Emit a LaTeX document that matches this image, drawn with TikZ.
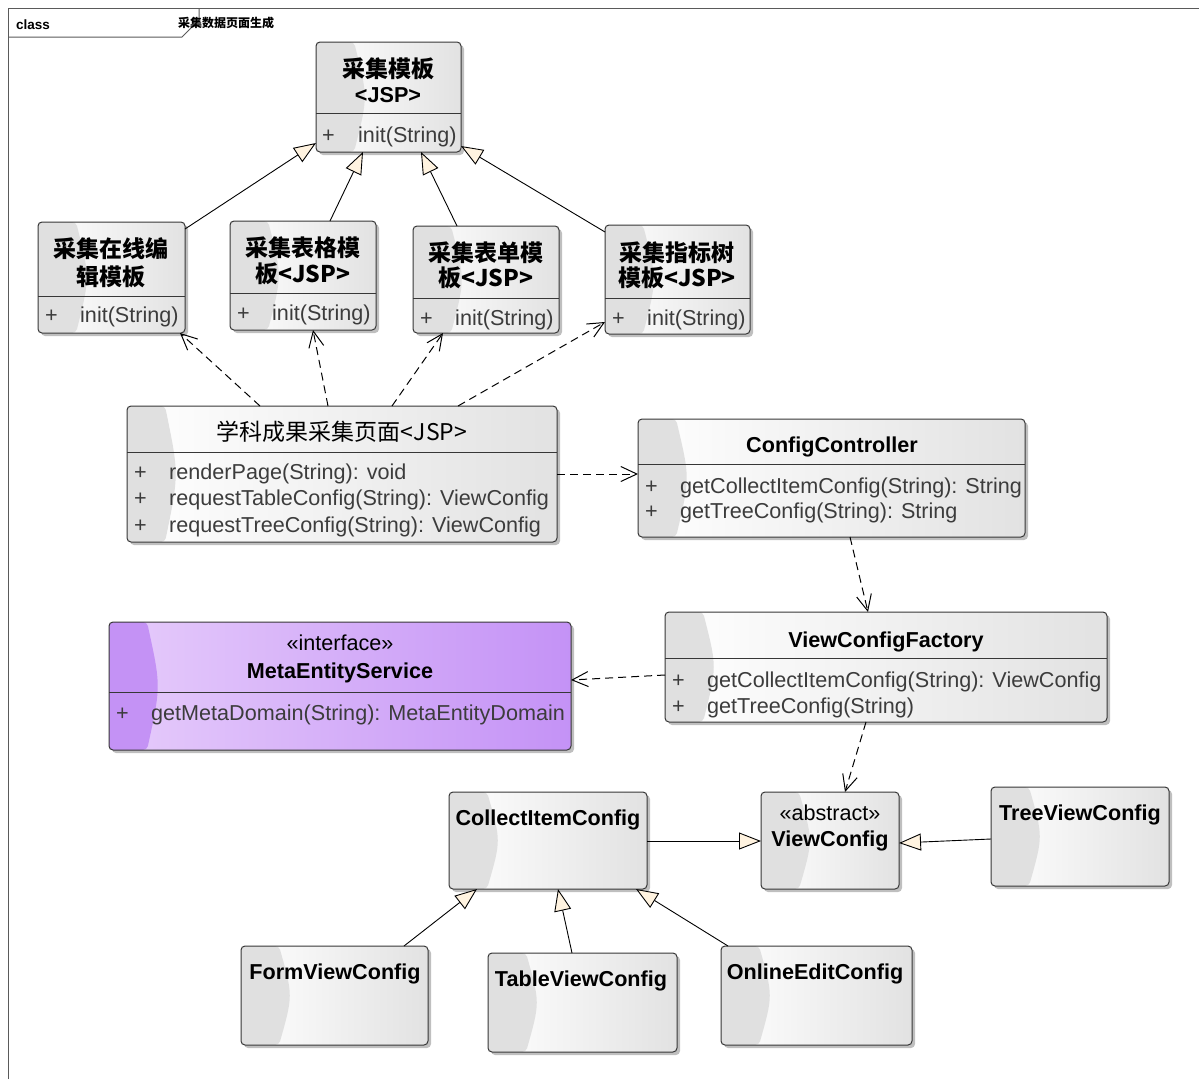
\documentclass[tikz,border=0pt]{standalone}
\usepackage{fontspec}
\setmainfont{Liberation Sans}
\newfontfamily\cjk{Noto Sans CJK SC}
\usetikzlibrary{arrows.meta,shadows,calc}
\definecolor{cream}{RGB}{255,243,224}
\definecolor{boxline}{RGB}{55,55,55}
\definecolor{stripgray}{RGB}{224,224,224}
\definecolor{rightgray}{RGB}{226,226,226}
\definecolor{pstrip}{RGB}{196,146,245}
\definecolor{plight}{RGB}{230,204,251}
\definecolor{pright}{RGB}{196,146,246}
\definecolor{txt}{RGB}{60,60,60}
\definecolor{framec}{RGB}{90,90,90}
\tikzset{
  cls/.style={draw=boxline, line width=1pt, rounded corners=4pt, anchor=north west,
    inner sep=0pt, outer sep=0pt, left color=white, right color=rightgray,
    drop shadow={shadow xshift=3pt, shadow yshift=-3pt, fill=black!50, opacity=0.5},
    path picture={\fill[#1] (path picture bounding box.north west)
      -- ([xshift=38pt]path picture bounding box.north west)
      .. controls ([xshift=52pt]path picture bounding box.west) and ([xshift=52pt]path picture bounding box.west)
      .. ([xshift=38pt]path picture bounding box.south west)
      -- (path picture bounding box.south west) -- cycle;}},
  cls/.default=stripgray,
  clsp/.style={cls=pstrip, left color=plight, right color=pright},
  divider/.style={draw=boxline, line width=1pt},
  mth/.style={anchor=base west, inner sep=0pt, text=txt, font=\fontsize{21.6}{25}\selectfont},
  ttl/.style={anchor=base, inner sep=0pt, font=\fontsize{21.6}{26}\selectfont\bfseries},
  ster/.style={anchor=base, inner sep=0pt, font=\fontsize{21.6}{25}\selectfont},
  cttl/.style={anchor=base, inner sep=0pt, font=\cjk\bfseries\fontsize{23}{28}\selectfont},
  gen/.style={draw=black, line width=0.9pt, -{Triangle[length=22pt,width=17pt,fill=cream]}},
  dep/.style={draw=black, line width=1pt, dash pattern=on 8pt off 5pt, -{Straight Barb[length=16pt,width=15pt]}}
}
\begin{document}
\begin{tikzpicture}[x=1pt,y=-1pt]
\useasboundingbox (0,0) rectangle (1199,1079);
\fill[white] (0,0) rectangle (1199,1079);
% frame
\draw[framec, line width=1pt] (8,1079) -- (8,8) -- (1199,8);
\draw[framec, line width=1pt] (8,37) -- (182,37) -- (199,20) -- (199,8);
\node[anchor=base west, inner sep=0pt, font=\fontsize{13.5}{16}\selectfont\bfseries] (fclass) at (16,29) {class};
\node[anchor=base west, inner sep=0pt, font=\cjk\bfseries\fontsize{12}{14}\selectfont] (ftitle) at (178,27) {采集数据页面生成};

% ---- boxes ----
\node[cls, minimum width=145pt, minimum height=110pt] (b1) at (316,42) {};
\node[cls, minimum width=147pt, minimum height=111pt] (b2) at (38,222) {};
\node[cls, minimum width=146pt, minimum height=109pt] (b3) at (230,221) {};
\node[cls, minimum width=146pt, minimum height=107pt] (b4) at (413,226) {};
\node[cls, minimum width=145pt, minimum height=109pt] (b5) at (605,225) {};
\node[cls, minimum width=430pt, minimum height=136pt] (b6) at (127,406) {};
\node[cls, minimum width=387pt, minimum height=118pt] (b7) at (638,419) {};
\node[clsp, minimum width=462pt, minimum height=128pt] (b8) at (109,622) {};
\node[cls, minimum width=442pt, minimum height=110pt] (b9) at (665,612) {};
\node[cls, minimum width=198pt, minimum height=97pt] (b10) at (449,792) {};
\node[cls, minimum width=138pt, minimum height=97pt] (b11) at (761,792) {};
\node[cls, minimum width=178pt, minimum height=99pt] (b12) at (991,787) {};
\node[cls, minimum width=187pt, minimum height=99pt] (b13) at (241,946) {};
\node[cls, minimum width=189pt, minimum height=99pt] (b14) at (488,953) {};
\node[cls, minimum width=191pt, minimum height=99pt] (b15) at (721,946) {};

% dividers
\draw[divider] (b1.west |- 0,113) -- (b1.east |- 0,113);
\draw[divider] (b2.west |- 0,296) -- (b2.east |- 0,296);
\draw[divider] (b3.west |- 0,293) -- (b3.east |- 0,293);
\draw[divider] (b4.west |- 0,298) -- (b4.east |- 0,298);
\draw[divider] (b5.west |- 0,298) -- (b5.east |- 0,298);
\draw[divider] (b6.west |- 0,452) -- (b6.east |- 0,452);
\draw[divider] (b7.west |- 0,464) -- (b7.east |- 0,464);
\draw[divider] (b8.west |- 0,692) -- (b8.east |- 0,692);
\draw[divider] (b9.west |- 0,658) -- (b9.east |- 0,658);

% ---- texts ----
\node[cttl] (t1a) at (388,77) {采集模板};
\node[ttl] (t1b) at (388,102) {<JSP>};
\node[mth] (p1) at (322,142) {+};
\node[mth] (m1) at (358,142) {init(String)};

\node[cttl] (t2a) at (111,257) {采集在线编};
\node[cttl] (t2b) at (111,285) {辑模板};
\node[mth] (p2) at (45,322) {+};
\node[mth] (m2) at (80,322) {init(String)};

\node[cttl] (t3a) at (303,256) {采集表格模};
\node[cttl] (t3b) at (303,282) {板<JSP>};
\node[mth] (p3) at (237,320) {+};
\node[mth] (m3) at (272,320) {init(String)};

\node[cttl] (t4a) at (486,261) {采集表单模};
\node[cttl] (t4b) at (486,286) {板<JSP>};
\node[mth] (p4) at (420,325) {+};
\node[mth] (m4) at (455,325) {init(String)};

\node[cttl] (t5a) at (677,261) {采集指标树};
\node[cttl] (t5b) at (677,286) {模板<JSP>};
\node[mth] (p5) at (612,325) {+};
\node[mth] (m5) at (647,325) {init(String)};

\node[anchor=base, inner sep=0pt, font=\cjk\fontsize{23}{28}\selectfont] (t6) at (342,440) {学科成果采集页面<JSP>};
\node[mth] (p6a) at (134,479) {+};
\node[mth] (m6a) at (169,479) {renderPage(String): void};
\node[mth] (p6b) at (134,505) {+};
\node[mth] (m6b) at (169,505) {requestTableConfig(String): ViewConfig};
\node[mth] (p6c) at (134,532) {+};
\node[mth] (m6c) at (169,532) {requestTreeConfig(String): ViewConfig};

\node[ttl] (t7) at (832,452) {ConfigController};
\node[mth] (p7a) at (645,493) {+};
\node[mth] (m7a) at (680,493) {getCollectItemConfig(String): String};
\node[mth] (p7b) at (645,518) {+};
\node[mth] (m7b) at (680,518) {getTreeConfig(String): String};

\node[ster] (s8) at (340,650) {«interface»};
\node[ttl] (t8) at (340,678) {MetaEntityService};
\node[mth] (p8) at (116,720) {+};
\node[mth] (m8) at (151,720) {getMetaDomain(String): MetaEntityDomain};

\node[ttl] (t9) at (886,647) {ViewConfigFactory};
\node[mth] (p9a) at (672,687) {+};
\node[mth] (m9a) at (707,687) {getCollectItemConfig(String): ViewConfig};
\node[mth] (p9b) at (672,713) {+};
\node[mth] (m9b) at (707,713) {getTreeConfig(String)};

\node[ttl] (t10) at (548,825) {CollectItemConfig};
\node[ster] (s11) at (830,820) {«abstract»};
\node[ttl] (t11) at (830,846) {ViewConfig};
\node[ttl] (t12) at (1080,820) {TreeViewConfig};
\node[ttl] (t13) at (335,979) {FormViewConfig};
\node[ttl] (t14) at (581,986) {TableViewConfig};
\node[ttl] (t15) at (815,979) {OnlineEditConfig};

% ---- generalizations ----
\draw[gen] ([yshift=-7pt]b2.north east) -- ([yshift=9pt]b1.south west);
\draw[gen] ([xshift=100pt]b3.north west) -- ([xshift=47pt]b1.south west);
\draw[gen] ([xshift=44pt]b4.north west) -- ([xshift=105pt]b1.south west);
\draw[gen] ([yshift=-7pt]b5.north west) -- ([yshift=6pt]b1.south east);
\draw[gen] ([yshift=-49pt]b10.north east) -- ([yshift=-49pt]b11.north west);
\draw[gen] ([yshift=-52pt]b12.north west) -- ([yshift=-51pt]b11.north east);
\draw[gen] ([xshift=163pt]b13.north west) -- ([xshift=28pt]b10.south west);
\draw[gen] ([xshift=84pt]b14.north west) -- ([xshift=109pt]b10.south west);
\draw[gen] ([xshift=7pt]b15.north west) -- ([xshift=187pt]b10.south west);

% ---- dependencies ----
\draw[dep] ([xshift=133pt]b6.north west) -- ([xshift=-5pt]b2.south east);
\draw[dep] ([xshift=201pt]b6.north west) -- ([xshift=83pt]b3.south west);
\draw[dep] ([xshift=265pt]b6.north west) -- ([xshift=30pt]b4.south west);
\draw[dep] ([xshift=331pt]b6.north west) -- ([yshift=12pt]b5.south west);
\draw[dep] ([yshift=-68pt]b6.north east) -- ([yshift=-55pt]b7.north west);
\draw[dep] ([xshift=212pt]b7.south west) -- ([xshift=203pt]b9.north west);
\draw[dep] ([yshift=-63pt]b9.north west) -- ([yshift=-58pt]b8.north east);
\draw[dep] ([xshift=201pt]b9.south west) -- ([xshift=84pt]b11.north west);
\end{tikzpicture}
\end{document}
